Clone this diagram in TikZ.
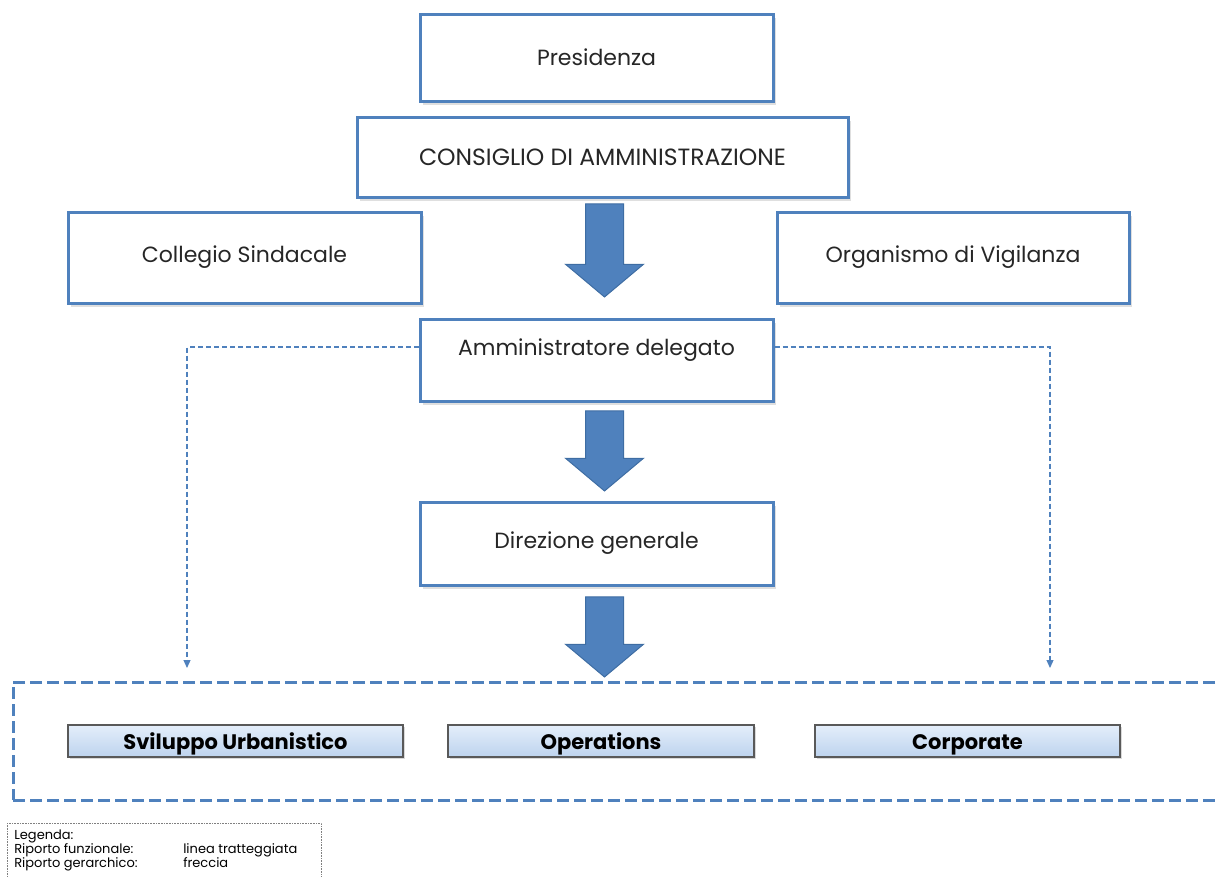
\documentclass[tikz,border=0pt]{standalone}
\usepackage{fontspec}
\setmainfont{Poppins}
\usetikzlibrary{shapes.arrows,shadows,arrows.meta}
\definecolor{boxblue}{HTML}{4F81BD}
\definecolor{arrowedge}{HTML}{3E6DA3}
\definecolor{subtop}{HTML}{E4EEFA}
\definecolor{subbot}{HTML}{BDD3EE}
\tikzset{
  orgbox/.style={draw=boxblue, line width=3pt, fill=white, text=black!85, minimum width=353pt, font=\fontsize{22}{26}\selectfont, drop shadow={shadow xshift=3pt, shadow yshift=-4pt, opacity=.25}},
  bigarrow/.style={single arrow, draw=arrowedge, fill=boxblue, line width=1pt, rotate=-90, inner xsep=0pt, inner ysep=18.5pt, single arrow head extend=20pt, single arrow tip angle=100, minimum height=80pt},
  funz/.style={draw=boxblue, line width=1.2pt, dash pattern=on 5pt off 3pt, -{Triangle[length=8pt,width=7pt]}},
  areabox/.style={draw=boxblue, line width=3pt, dash pattern=on 12pt off 5pt},
  subbox/.style={draw=black!65, line width=1.5pt, top color=subtop, bottom color=subbot, inner ysep=1pt, text height=20pt, text depth=4pt, minimum height=32pt, font=\bfseries\fontsize{21}{24}\selectfont, drop shadow={shadow xshift=1.5pt, shadow yshift=-1.5pt, opacity=.3}}
}
\begin{document}
\begin{tikzpicture}[x=1pt,y=-1pt]
\useasboundingbox (0,0) rectangle (1220,876);
\clip (0,0) rectangle (1220,876);

\node[orgbox, minimum height=87pt] (pres) at (596.5,57.5) {Presidenza};
\node[orgbox, minimum height=80pt, minimum width=491pt, font=\fontsize{23.5}{26}\selectfont] (cda) at (602.5,157) {CONSIGLIO DI AMMINISTRAZIONE};
\node[orgbox, minimum height=91pt] (coll) at (244.5,257.5) {Collegio Sindacale};
\node[orgbox, minimum height=91pt, minimum width=352pt] (odv) at (953,257.5) {Organismo di Vigilanza};
\node[orgbox, minimum height=82pt, text depth=25pt] (ad) at (596.5,360) {Amministratore delegato};
\node[orgbox, minimum height=83pt] (dg) at (596.5,543.5) {Direzione generale};

\node[bigarrow, minimum height=93pt] (fr1) at (604.5,242.5) {};
\node[bigarrow] (fr2) at (604.5,443) {};
\node[bigarrow] (fr3) at (604.5,629) {};

\node[areabox, minimum width=1222pt, minimum height=118pt] (area) at (624,741) {};
\node[subbox, minimum width=335pt] (svil) at (235.5,741) {Sviluppo Urbanistico};
\node[subbox, minimum width=306pt] (oper) at (601,741) {Operations};
\node[subbox, minimum width=305pt] (corp) at (967.5,741) {Corporate};

\coordinate (fsx) at (187,668);
\coordinate (fdx) at (1050,668);
\draw[funz] ([yshift=13pt]ad.west) -| (fsx);
\draw[funz] ([yshift=13pt]ad.east) -| (fdx);

\node[draw=black!50, densely dotted, line width=.6pt, anchor=north west, inner xsep=7pt, inner ysep=6pt, text depth=45pt, font=\fontsize{13}{14}\selectfont] (legenda) at (7,823)
  {\begin{tabular}[t]{@{}p{169pt}@{}p{131pt}@{}}
    Legenda: & \\
    Riporto funzionale: & linea tratteggiata\\
    Riporto gerarchico: & freccia
  \end{tabular}};
\end{tikzpicture}
\end{document}
